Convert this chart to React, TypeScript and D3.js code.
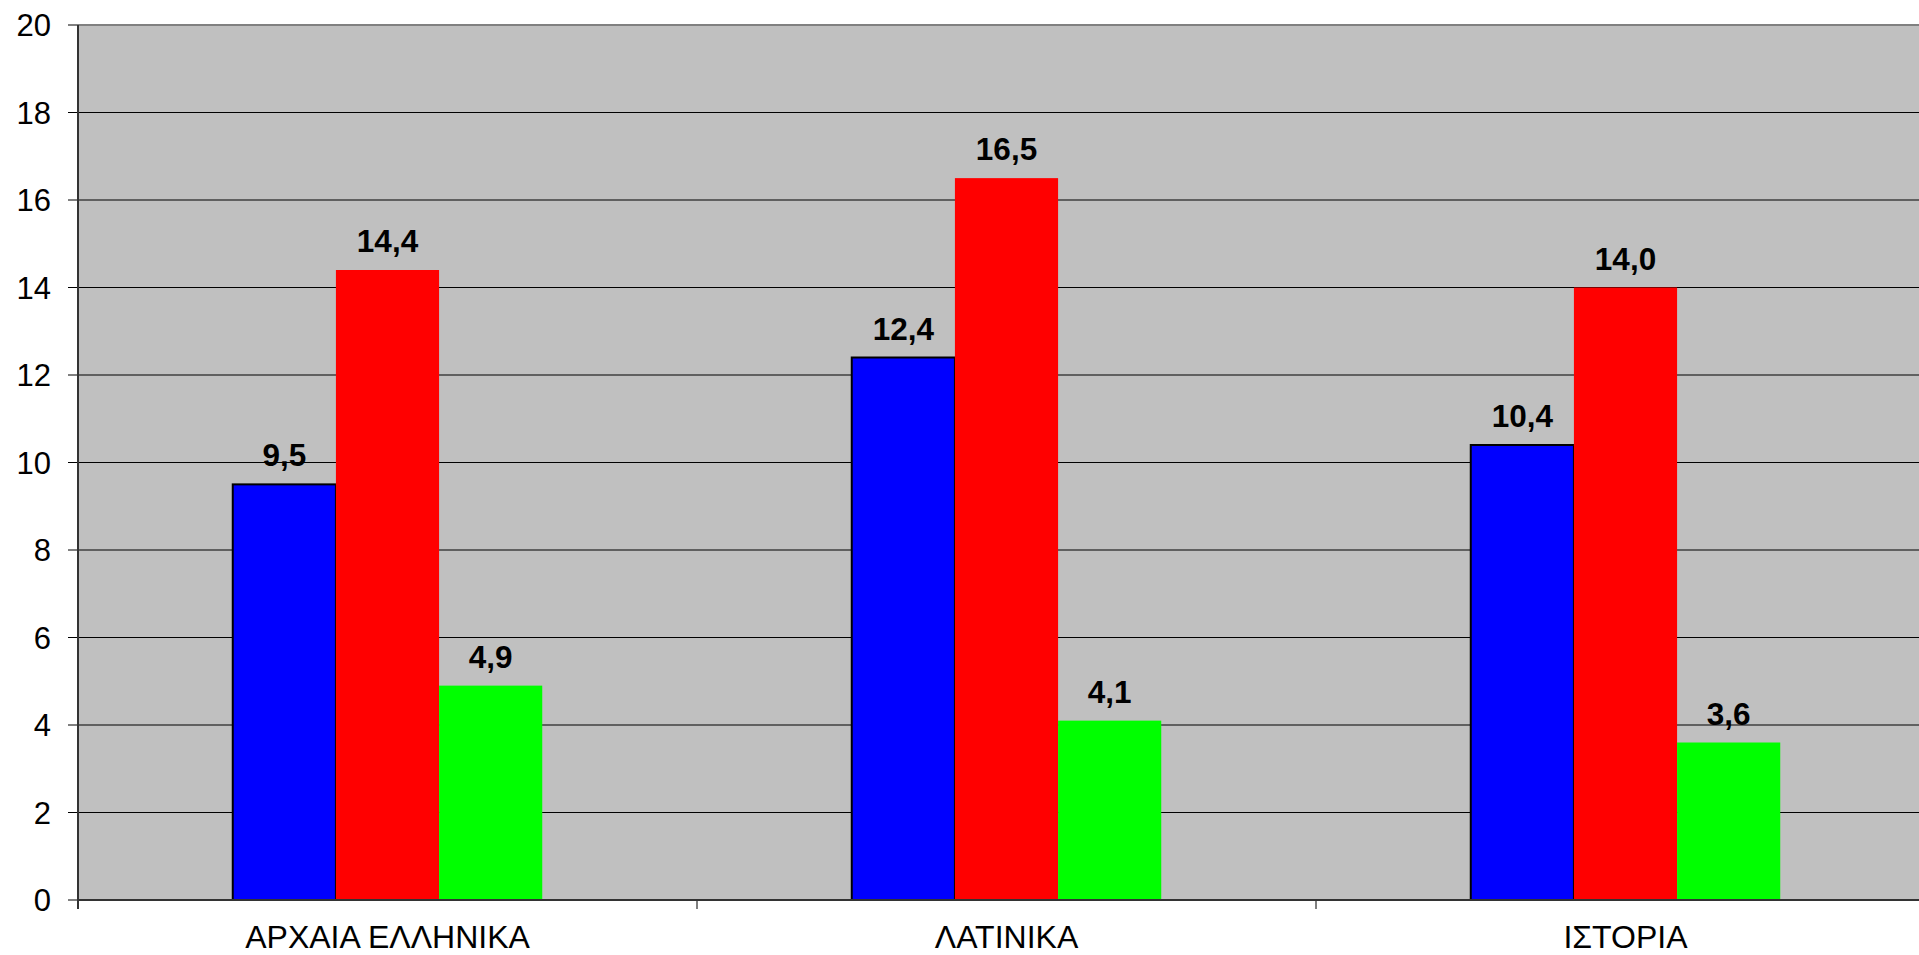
import React from "react";
import * as d3 from "d3";

const categories = ["ΑΡΧΑΙΑ ΕΛΛΗΝΙΚΑ", "ΛΑΤΙΝΙΚΑ", "ΙΣΤΟΡΙΑ"];
const seriesBlue = [9.5, 12.4, 10.4];
const seriesRed = [14.4, 16.5, 14.0];
const seriesGreen = [4.9, 4.1, 3.6];
const yTicks = [0, 2, 4, 6, 8, 10, 12, 14, 16, 18, 20];
const seriesColors = ["#0000FF", "#FF0000", "#00FF00"];

const W = 1919;
const H = 955;
const left = 78;
const top = 25;
const bottom = 900;
const band = 619;
const right = left + band * categories.length;

export default function App() {
  const x = d3.scaleBand<string>().domain(categories).range([left, right]).paddingInner(0).paddingOuter(0);
  const y = d3.scaleLinear().domain([0, 20]).range([bottom, top]);
  const series = [seriesBlue, seriesRed, seriesGreen];
  const gap = 3; // gap width in bar units
  const barW = x.bandwidth() / (series.length + gap);
  const fmt = (v: number) => v.toFixed(1).replace(".", ",");
  const font = "'Liberation Sans', Arial, sans-serif";

  return (
    <svg width={W} height={H} style={{ position: "absolute", left: 0, top: 0, display: "block" }} fontFamily={font}>
      <rect x={0} y={0} width={W} height={H} fill="#fff" />
      <rect x={left} y={top} width={right - left} height={bottom - top} fill="#C0C0C0" />
      {yTicks.map((t) => (
        <g key={t}>
          {t > 0 && t < 20 && <line x1={left} x2={right} y1={y(t)} y2={y(t)} stroke="#000" strokeWidth={1} />}
          <line x1={68} x2={left} y1={y(t)} y2={y(t)} stroke="#000" strokeWidth={1} />
          <text x={51} y={y(t)} dy="0.36em" textAnchor="end" fontSize={31} fill="#000">{t}</text>
        </g>
      ))}
      <line x1={left} x2={right} y1={top} y2={top} stroke="#808080" strokeWidth={2} />
      {categories.map((c, i) => {
        const x0 = (x(c) as number) + (gap / 2) * barW;
        return (
          <g key={c}>
            {series.map((s, j) => {
              const bx = x0 + j * barW;
              const by = y(s[i]);
              return (
                <g key={j}>
                  <rect
                    x={bx}
                    y={by}
                    width={barW}
                    height={bottom - by}
                    fill={seriesColors[j]}
                    stroke={j === 0 ? "#000" : "none"}
                    strokeWidth={2}
                  />
                  <text x={bx + barW / 2} y={by - 18} textAnchor="middle" fontSize={31.5} fontWeight="bold" fill="#000">
                    {fmt(s[i])}
                  </text>
                </g>
              );
            })}
            <text x={(x(c) as number) + x.bandwidth() / 2} y={948} textAnchor="middle" fontSize={32} fill="#000">{c}</text>
          </g>
        );
      })}
      {[0, 1, 2, 3].map((k) => (
        <line key={k} x1={left + k * band} x2={left + k * band} y1={bottom} y2={909} stroke="#000" strokeWidth={1} />
      ))}
      <line x1={left} x2={right} y1={bottom} y2={bottom} stroke="#333" strokeWidth={2} />
      <line x1={left} x2={left} y1={top} y2={909} stroke="#333" strokeWidth={2} />
    </svg>
  );
}
